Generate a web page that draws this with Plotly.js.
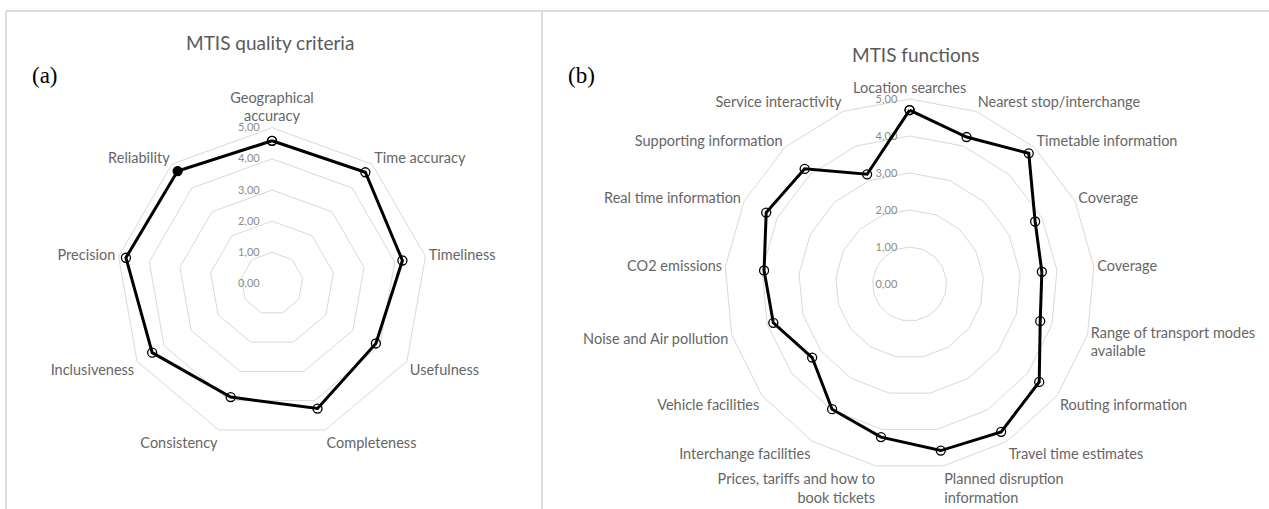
<!DOCTYPE html>
<html><head><meta charset="utf-8">
<script src="https://cdn.plot.ly/plotly-3.0.1.min.js"></script>
<style>html,body{margin:0;padding:0;background:#fff}#chart{width:1269px;height:509px}</style>
</head><body><div id="chart"></div>
<script>
// ---- data ----
const qualityCategories = ['Geographical<br>accuracy','Time accuracy','Timeliness','Usefulness','Completeness','Consistency','Inclusiveness','Precision','Reliability'];
const qualityValues = [4.58, 4.66, 4.25, 3.85, 4.27, 3.88, 4.44, 4.76, 4.71];

const functionCategories = ['Location searches','Nearest stop/interchange','Timetable information','Coverage','Coverage ','Range of transport modes<br>available','Routing information','Travel time estimates','Planned disruption<br>information','Prices, tariffs and how to<br>book tickets','Interchange facilities','Vehicle facilities','Noise and Air pollution','CO2 emissions','Real time information','Supporting information','Service interactivity'];
const functionValues = [4.70, 4.26, 4.78, 3.79, 3.59, 3.67, 4.39, 4.70, 4.58, 4.21, 3.98, 3.30, 3.83, 3.95, 4.33, 4.21, 3.18];

const radialTicks = [0, 1, 2, 3, 4, 5];
const titles = ['MTIS quality criteria', 'MTIS functions'];
const panelLetters = ['(a)', '(b)'];

// ---- helpers ----
const W = 1269, H = 509;
const px = x => x / W;
const py = y => 1 - y / H;
const LABEL_FONT = 'Lato, Carlito, Calibri, sans-serif';

function closedTrace(cats, vals, sub, filledIndex) {
  return {
    type: 'scatterpolar', subplot: sub, mode: 'lines+markers',
    theta: cats.concat([cats[0]]), r: vals.concat([vals[0]]),
    line: {color: '#000', width: 3},
    marker: {
      size: 9, color: '#000',
      symbol: cats.concat([cats[0]]).map((c, i) => i === filledIndex ? 'circle' : 'circle-open'),
      line: {color: '#000', width: 1.3}
    },
    cliponaxis: false, showlegend: false, hoverinfo: 'r+theta'
  };
}

function polarLayout(domX, domY, cats) {
  return {
    domain: {x: domX, y: domY},
    gridshape: 'linear',
    bgcolor: 'rgba(0,0,0,0)',
    radialaxis: {
      range: [0, 5], tickvals: radialTicks, tickformat: '.2f', angle: 90, tickangle: 90,
      side: 'counterclockwise', showline: false, gridcolor: '#d9d9d9', gridwidth: 1,
      ticks: 'outside', ticklen: 8, tickcolor: 'rgba(0,0,0,0)',
      tickfont: {family: LABEL_FONT, size: 11, color: '#8c8c8c'}, layer: 'below traces'
    },
    angularaxis: {
      type: 'category', categoryarray: cats, categoryorder: 'array',
      rotation: 90, direction: 'clockwise', showgrid: false,
      showline: true, linecolor: '#d9d9d9', linewidth: 1, ticks: '',
      tickfont: {family: LABEL_FONT, size: 14.5, color: '#666'}, layer: 'below traces'
    }
  };
}

const data = [
  closedTrace(qualityCategories, qualityValues, 'polar', qualityCategories.length - 1),
  closedTrace(functionCategories, functionValues, 'polar2', -1)
];

const leftC = {x: 272, y: 283.5, R: 155.8};
const rightC = {x: 909.6, y: 284, R: 185};
const dom = c => [[px(c.x - c.R), px(c.x + c.R)], [py(c.y + c.R), py(c.y - c.R)]];
const dl = dom(leftC), dr = dom(rightC);

const borderColor = '#dcdcdc';
const layout = {
  width: W, height: H, margin: {l: 0, r: 0, t: 0, b: 0},
  paper_bgcolor: '#fff', separators: ', ', showlegend: false,
  polar: polarLayout(dl[0], dl[1], qualityCategories),
  polar2: polarLayout(dr[0], dr[1], functionCategories),
  shapes: [
    {type: 'line', xref: 'paper', yref: 'paper', x0: px(6), x1: 1, y0: py(11), y1: py(11), line: {color: borderColor, width: 2}},
    {type: 'line', xref: 'paper', yref: 'paper', x0: px(6), x1: px(6), y0: py(11), y1: 0, line: {color: borderColor, width: 2}},
    {type: 'line', xref: 'paper', yref: 'paper', x0: px(542), x1: px(542), y0: py(11), y1: 0, line: {color: borderColor, width: 2}}
  ],
  annotations: [
    {text: titles[0], xref: 'paper', yref: 'paper', x: px(270), y: py(43), xanchor: 'center', yanchor: 'middle', showarrow: false, font: {family: LABEL_FONT, size: 19, color: '#595959'}},
    {text: titles[1], xref: 'paper', yref: 'paper', x: px(916), y: py(54), xanchor: 'center', yanchor: 'middle', showarrow: false, font: {family: LABEL_FONT, size: 19, color: '#595959'}},
    {text: panelLetters[0], xref: 'paper', yref: 'paper', x: px(45), y: py(76), xanchor: 'center', yanchor: 'middle', showarrow: false, font: {family: 'Liberation Serif, Times New Roman, serif', size: 23, color: '#000'}},
    {text: panelLetters[1], xref: 'paper', yref: 'paper', x: px(581), y: py(76), xanchor: 'center', yanchor: 'middle', showarrow: false, font: {family: 'Liberation Serif, Times New Roman, serif', size: 23, color: '#000'}}
  ]
};

Plotly.newPlot('chart', data, layout, {displayModeBar: false, staticPlot: true});
</script>
</body></html>
